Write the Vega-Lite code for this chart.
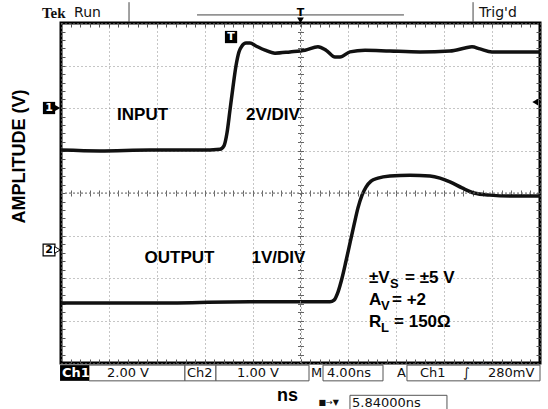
{
  "$schema": "https://vega.github.io/schema/vega-lite/v6.json",
  "width": 479,
  "height": 340,
  "autosize": {"type": "none"},
  "padding": {"left": 61, "top": 23, "right": 8, "bottom": 46},
  "background": "white",
  "config": {
    "view": {"stroke": "#000", "strokeWidth": 3},
    "font": "Liberation Sans",
    "axis": {"labels": false, "domain": false, "ticks": false, "grid": false}
  },
  "datasets": {
    "traces": [
      {"series": "INPUT", "t": 0, "v": 1.01}, {"series": "INPUT", "t": 3.26, "v": 0.99}, {"series": "INPUT", "t": 7.43, "v": 1.01},
      {"series": "INPUT", "t": 11.61, "v": 1.01}, {"series": "INPUT", "t": 13.28, "v": 1.03}, {"series": "INPUT", "t": 13.61, "v": 1.11},
      {"series": "INPUT", "t": 13.86, "v": 1.41}, {"series": "INPUT", "t": 14.11, "v": 1.95}, {"series": "INPUT", "t": 14.36, "v": 2.49},
      {"series": "INPUT", "t": 14.61, "v": 2.99}, {"series": "INPUT", "t": 14.86, "v": 3.32}, {"series": "INPUT", "t": 15.11, "v": 3.46},
      {"series": "INPUT", "t": 15.45, "v": 3.53}, {"series": "INPUT", "t": 15.78, "v": 3.53}, {"series": "INPUT", "t": 16.28, "v": 3.46},
      {"series": "INPUT", "t": 17.04, "v": 3.36}, {"series": "INPUT", "t": 17.87, "v": 3.29}, {"series": "INPUT", "t": 19.12, "v": 3.32},
      {"series": "INPUT", "t": 20.38, "v": 3.36}, {"series": "INPUT", "t": 21.46, "v": 3.44}, {"series": "INPUT", "t": 22.13, "v": 3.36},
      {"series": "INPUT", "t": 22.88, "v": 3.2}, {"series": "INPUT", "t": 23.3, "v": 3.2}, {"series": "INPUT", "t": 24.13, "v": 3.32},
      {"series": "INPUT", "t": 25.39, "v": 3.36}, {"series": "INPUT", "t": 27.47, "v": 3.34}, {"series": "INPUT", "t": 29.98, "v": 3.32},
      {"series": "INPUT", "t": 32.48, "v": 3.34}, {"series": "INPUT", "t": 33.74, "v": 3.41}, {"series": "INPUT", "t": 34.32, "v": 3.44},
      {"series": "INPUT", "t": 34.99, "v": 3.39}, {"series": "INPUT", "t": 35.99, "v": 3.32}, {"series": "INPUT", "t": 37.49, "v": 3.32},
      {"series": "INPUT", "t": 40, "v": 3.32},
      {"series": "OUTPUT", "t": 0, "v": -2.59}, {"series": "OUTPUT", "t": 7.43, "v": -2.59}, {"series": "OUTPUT", "t": 15.78, "v": -2.56},
      {"series": "OUTPUT", "t": 22.46, "v": -2.56}, {"series": "OUTPUT", "t": 22.8, "v": -2.52}, {"series": "OUTPUT", "t": 23.13, "v": -2.33},
      {"series": "OUTPUT", "t": 23.47, "v": -2.0}, {"series": "OUTPUT", "t": 23.8, "v": -1.6}, {"series": "OUTPUT", "t": 24.13, "v": -1.18},
      {"series": "OUTPUT", "t": 24.47, "v": -0.75}, {"series": "OUTPUT", "t": 24.8, "v": -0.35}, {"series": "OUTPUT", "t": 25.14, "v": -0.05},
      {"series": "OUTPUT", "t": 25.47, "v": 0.14}, {"series": "OUTPUT", "t": 25.89, "v": 0.28}, {"series": "OUTPUT", "t": 26.47, "v": 0.35},
      {"series": "OUTPUT", "t": 27.47, "v": 0.4}, {"series": "OUTPUT", "t": 29.14, "v": 0.42}, {"series": "OUTPUT", "t": 30.81, "v": 0.4},
      {"series": "OUTPUT", "t": 31.65, "v": 0.35}, {"series": "OUTPUT", "t": 32.48, "v": 0.26}, {"series": "OUTPUT", "t": 33.49, "v": 0.12},
      {"series": "OUTPUT", "t": 34.49, "v": 0.0}, {"series": "OUTPUT", "t": 35.82, "v": -0.05}, {"series": "OUTPUT", "t": 37.49, "v": -0.07},
      {"series": "OUTPUT", "t": 40, "v": -0.07}
    ],
    "labels": [
      {"t": 6.81, "v": 1.84, "label": "INPUT"},
      {"t": 17.7, "v": 1.84, "label": "2V/DIV"},
      {"t": 9.9, "v": -1.53, "label": "OUTPUT"},
      {"t": 18.16, "v": -1.53, "label": "1V/DIV"}
    ],
    "eqMain": [
      {"t": 25.72, "v": -2.0, "label": "±V"},
      {"t": 28.73, "v": -2.0, "label": "= ±5 V"},
      {"t": 25.72, "v": -2.52, "label": "A"},
      {"t": 27.64, "v": -2.52, "label": "= +2"},
      {"t": 25.72, "v": -3.04, "label": "R"},
      {"t": 27.81, "v": -3.04, "label": "= 150Ω"}
    ],
    "eqSub": [
      {"t": 27.47, "v": -2.0, "label": "S"},
      {"t": 26.72, "v": -2.52, "label": "V"},
      {"t": 26.72, "v": -3.04, "label": "L"}
    ],
    "status": [
      {"t": 3.84, "v": -4.235, "label": "2.00 V"},
      {"t": 10.52, "v": -4.235, "label": "Ch2"},
      {"t": 14.7, "v": -4.235, "label": "1.00 V"},
      {"t": 20.88, "v": -4.235, "label": "M"},
      {"t": 22.21, "v": -4.235, "label": "4.00ns"},
      {"t": 28.06, "v": -4.235, "label": "A"},
      {"t": 29.98, "v": -4.235, "label": "Ch1"},
      {"t": 33.57, "v": -4.235, "label": "∫"},
      {"t": 35.66, "v": -4.235, "label": "280mV"},
      {"t": 24.3, "v": -4.93, "label": "5.84000ns"}
    ],
    "boxes": [
      {"t1": 2.34, "t2": 10.35, "v1": -4.05, "v2": -4.42},
      {"t1": 10.35, "t2": 12.94, "v1": -4.05, "v2": -4.42},
      {"t1": 12.94, "t2": 20.71, "v1": -4.05, "v2": -4.42},
      {"t1": 21.88, "t2": 26.89, "v1": -4.05, "v2": -4.42},
      {"t1": 28.89, "t2": 40, "v1": -4.05, "v2": -4.42},
      {"t1": 24.13, "t2": 32.23, "v1": -4.76, "v2": -5.2}
    ],
    "lines": [
      {"t1": 5.68, "t2": 5.68, "v1": 4.49, "v2": 4.02},
      {"t1": 34.41, "t2": 34.41, "v1": 4.49, "v2": 4.02},
      {"t1": 11.36, "t2": 28.64, "v1": 4.19, "v2": 4.19}
    ]
  },
  "resolve": {"axis": {"x": "independent", "y": "independent"}},
  "layer": [
    {
      "data": {"name": "traces"},
      "mark": {"type": "line", "color": "#111", "strokeWidth": 3.5, "interpolate": "monotone", "strokeJoin": "round"},
      "encoding": {
        "x": {"field": "t", "type": "quantitative", "scale": {"domain": [0, 40], "nice": false, "zero": false},
          "axis": {"orient": "bottom", "grid": true, "values": [0, 4, 8, 12, 16, 20, 24, 28, 32, 36, 40], "gridColor": "#8c8c8c", "gridDash": [1, 3], "gridWidth": 1,
            "title": "ns", "titleFontSize": 18, "titleFontWeight": "bold", "titleX": 226, "titleY": 32, "titleBaseline": "middle", "titleAlign": "center", "titleColor": "#000"}},
        "y": {"field": "v", "type": "quantitative", "scale": {"domain": [-4, 4], "nice": false, "zero": false},
          "axis": {"orient": "left", "grid": true, "values": [-4, -3, -2, -1, 0, 1, 2, 3, 4], "gridColor": "#8c8c8c", "gridDash": [1, 3], "gridWidth": 1,
            "title": "AMPLITUDE (V)", "titleFontSize": 18, "titleFontWeight": "bold", "titleX": -42, "titleY": 133, "titleAngle": -90, "titleAlign": "center", "titleBaseline": "middle", "titleColor": "#000"}},
        "detail": {"field": "series"}
      }
    },
    {
      "data": {"values": [{"t": 20, "a": -4, "b": 4}]},
      "mark": {"type": "rule", "color": "#777", "strokeDash": [2, 2], "strokeWidth": 1},
      "encoding": {
        "x": {"field": "t", "type": "quantitative",
          "axis": {"orient": "bottom", "ticks": true, "tickSize": -4, "tickColor": "#555", "title": null,
            "values": [0.8,1.6,2.4,3.2,4,4.8,5.6,6.4,7.2,8,8.8,9.6,10.4,11.2,12,12.8,13.6,14.4,15.2,16,16.8,17.6,18.4,19.2,20,20.8,21.6,22.4,23.2,24,24.8,25.6,26.4,27.2,28,28.8,29.6,30.4,31.2,32,32.8,33.6,34.4,35.2,36,36.8,37.6,38.4,39.2]}},
        "y": {"field": "a", "type": "quantitative",
          "axis": {"orient": "left", "offset": -239.5, "ticks": true, "tickSize": 3, "tickColor": "#666", "title": null,
            "values": [-3.8,-3.6,-3.4,-3.2,-3,-2.8,-2.6,-2.4,-2.2,-2,-1.8,-1.6,-1.4,-1.2,-1,-0.8,-0.6,-0.4,-0.2,0,0.2,0.4,0.6,0.8,1,1.2,1.4,1.6,1.8,2,2.2,2.4,2.6,2.8,3,3.2,3.4,3.6,3.8]}},
        "y2": {"field": "b"}
      }
    },
    {
      "data": {"values": [{"a": 0, "b": 40, "v": 0}]},
      "mark": {"type": "rule", "color": "#777", "strokeDash": [2, 2], "strokeWidth": 1},
      "encoding": {
        "x": {"field": "a", "type": "quantitative",
          "axis": {"orient": "bottom", "offset": -170, "ticks": true, "tickSize": 3, "tickColor": "#666", "title": null,
            "values": [0.8,1.6,2.4,3.2,4,4.8,5.6,6.4,7.2,8,8.8,9.6,10.4,11.2,12,12.8,13.6,14.4,15.2,16,16.8,17.6,18.4,19.2,20,20.8,21.6,22.4,23.2,24,24.8,25.6,26.4,27.2,28,28.8,29.6,30.4,31.2,32,32.8,33.6,34.4,35.2,36,36.8,37.6,38.4,39.2]}},
        "x2": {"field": "b"},
        "y": {"field": "v", "type": "quantitative",
          "axis": {"orient": "left", "ticks": true, "tickSize": -4, "tickColor": "#555", "title": null,
            "values": [-3.8,-3.6,-3.4,-3.2,-3,-2.8,-2.6,-2.4,-2.2,-2,-1.8,-1.6,-1.4,-1.2,-1,-0.8,-0.6,-0.4,-0.2,0,0.2,0.4,0.6,0.8,1,1.2,1.4,1.6,1.8,2,2.2,2.4,2.6,2.8,3,3.2,3.4,3.6,3.8]}}
      }
    },
    {
      "data": {"name": "labels"},
      "mark": {"type": "text", "font": "Liberation Sans", "fontSize": 17, "fontWeight": "bold", "align": "center", "baseline": "middle", "color": "#000"},
      "encoding": {
        "x": {"field": "t", "type": "quantitative",
          "axis": {"orient": "top", "ticks": true, "tickSize": -4, "tickColor": "#555", "title": null,
            "values": [0.8,1.6,2.4,3.2,4,4.8,5.6,6.4,7.2,8,8.8,9.6,10.4,11.2,12,12.8,13.6,14.4,15.2,16,16.8,17.6,18.4,19.2,20,20.8,21.6,22.4,23.2,24,24.8,25.6,26.4,27.2,28,28.8,29.6,30.4,31.2,32,32.8,33.6,34.4,35.2,36,36.8,37.6,38.4,39.2]}},
        "y": {"field": "v", "type": "quantitative",
          "axis": {"orient": "right", "ticks": true, "tickSize": -4, "tickColor": "#555", "title": null,
            "values": [-3.8,-3.6,-3.4,-3.2,-3,-2.8,-2.6,-2.4,-2.2,-2,-1.8,-1.6,-1.4,-1.2,-1,-0.8,-0.6,-0.4,-0.2,0,0.2,0.4,0.6,0.8,1,1.2,1.4,1.6,1.8,2,2.2,2.4,2.6,2.8,3,3.2,3.4,3.6,3.8]}},
        "text": {"field": "label"}
      }
    },
    {
      "data": {"name": "eqMain"},
      "mark": {"type": "text", "font": "Liberation Sans", "fontSize": 17, "fontWeight": "bold", "align": "left", "baseline": "middle", "color": "#000"},
      "encoding": {
        "x": {"field": "t", "type": "quantitative",
          "axis": {"orient": "top", "offset": -170, "ticks": true, "tickSize": 3, "tickColor": "#666", "title": null,
            "values": [0.8,1.6,2.4,3.2,4,4.8,5.6,6.4,7.2,8,8.8,9.6,10.4,11.2,12,12.8,13.6,14.4,15.2,16,16.8,17.6,18.4,19.2,20,20.8,21.6,22.4,23.2,24,24.8,25.6,26.4,27.2,28,28.8,29.6,30.4,31.2,32,32.8,33.6,34.4,35.2,36,36.8,37.6,38.4,39.2]}},
        "y": {"field": "v", "type": "quantitative",
          "axis": {"orient": "right", "offset": -239.5, "ticks": true, "tickSize": 3, "tickColor": "#666", "title": null,
            "values": [-3.8,-3.6,-3.4,-3.2,-3,-2.8,-2.6,-2.4,-2.2,-2,-1.8,-1.6,-1.4,-1.2,-1,-0.8,-0.6,-0.4,-0.2,0,0.2,0.4,0.6,0.8,1,1.2,1.4,1.6,1.8,2,2.2,2.4,2.6,2.8,3,3.2,3.4,3.6,3.8]}},
        "text": {"field": "label"}
      }
    },
    {
      "data": {"name": "eqSub"},
      "mark": {"type": "text", "font": "Liberation Sans", "fontSize": 13, "fontWeight": "bold", "align": "left", "baseline": "middle", "dy": 6, "color": "#000"},
      "encoding": {
        "x": {"field": "t", "type": "quantitative", "axis": null},
        "y": {"field": "v", "type": "quantitative", "axis": null},
        "text": {"field": "label"}
      }
    },
    {
      "data": {"name": "boxes"},
      "mark": {"type": "rect", "fill": "#fff", "stroke": "#555", "strokeWidth": 1},
      "encoding": {
        "x": {"field": "t1", "type": "quantitative", "axis": null},
        "x2": {"field": "t2"},
        "y": {"field": "v1", "type": "quantitative", "axis": null},
        "y2": {"field": "v2"}
      }
    },
    {
      "data": {"values": [{"t1": -0.08, "t2": 2.34, "v1": -4.05, "v2": -4.42}]},
      "mark": {"type": "rect", "fill": "#000"},
      "encoding": {
        "x": {"field": "t1", "type": "quantitative", "axis": null},
        "x2": {"field": "t2"},
        "y": {"field": "v1", "type": "quantitative", "axis": null},
        "y2": {"field": "v2"}
      }
    },
    {
      "data": {"name": "status"},
      "mark": {"type": "text", "font": "DejaVu Sans", "fontSize": 13, "align": "left", "baseline": "middle", "color": "#111"},
      "encoding": {
        "x": {"field": "t", "type": "quantitative", "axis": null},
        "y": {"field": "v", "type": "quantitative", "axis": null},
        "text": {"field": "label"}
      }
    },
    {
      "data": {"values": [{"t": 21.5, "v": -4.93, "label": "■→▼"}]},
      "mark": {"type": "text", "font": "DejaVu Sans", "fontSize": 8, "align": "left", "baseline": "middle", "color": "#111"},
      "encoding": {
        "x": {"field": "t", "type": "quantitative", "axis": null},
        "y": {"field": "v", "type": "quantitative", "axis": null},
        "text": {"field": "label"}
      }
    },
    {
      "data": {"values": [{"t": 0.08, "v": -4.235, "label": "Ch1"}]},
      "mark": {"type": "text", "font": "DejaVu Sans", "fontSize": 13, "fontWeight": "bold", "align": "left", "baseline": "middle", "color": "#fff"},
      "encoding": {
        "x": {"field": "t", "type": "quantitative", "axis": null},
        "y": {"field": "v", "type": "quantitative", "axis": null},
        "text": {"field": "label"}
      }
    },
    {
      "data": {"name": "lines"},
      "mark": {"type": "rule", "color": "#444", "strokeWidth": 1},
      "encoding": {
        "x": {"field": "t1", "type": "quantitative", "axis": null},
        "x2": {"field": "t2"},
        "y": {"field": "v1", "type": "quantitative", "axis": null},
        "y2": {"field": "v2"}
      }
    },
    {
      "data": {"values": [{"t": -1.59, "v": 4.235, "label": "Tek"}]},
      "mark": {"type": "text", "font": "Liberation Serif", "fontSize": 15, "fontWeight": "bold", "align": "left", "baseline": "middle", "color": "#111"},
      "encoding": {
        "x": {"field": "t", "type": "quantitative", "axis": null},
        "y": {"field": "v", "type": "quantitative", "axis": null},
        "text": {"field": "label"}
      }
    },
    {
      "data": {"values": [{"t": 1.09, "v": 4.235, "label": "Run"}, {"t": 34.91, "v": 4.235, "label": "Trig'd"}]},
      "mark": {"type": "text", "font": "DejaVu Sans", "fontSize": 14, "align": "left", "baseline": "middle", "color": "#111"},
      "encoding": {
        "x": {"field": "t", "type": "quantitative", "axis": null},
        "y": {"field": "v", "type": "quantitative", "axis": null},
        "text": {"field": "label"}
      }
    },
    {
      "data": {"values": [{"t": -1.0, "v": 2.0}, {"t": 14.2, "v": 3.67}]},
      "mark": {"type": "point", "shape": "square", "filled": true, "color": "#000", "opacity": 1, "size": 150},
      "encoding": {
        "x": {"field": "t", "type": "quantitative", "axis": null},
        "y": {"field": "v", "type": "quantitative", "axis": null}
      }
    },
    {
      "data": {"values": [{"t": -1.0, "v": -1.34}]},
      "mark": {"type": "point", "shape": "square", "filled": true, "fill": "#fff", "stroke": "#000", "strokeWidth": 1.2, "opacity": 1, "size": 140},
      "encoding": {
        "x": {"field": "t", "type": "quantitative", "axis": null},
        "y": {"field": "v", "type": "quantitative", "axis": null}
      }
    },
    {
      "data": {"values": [{"t": -0.3, "v": 2.0}]},
      "mark": {"type": "point", "shape": "triangle-right", "filled": true, "color": "#000", "opacity": 1, "size": 45},
      "encoding": {
        "x": {"field": "t", "type": "quantitative", "axis": null},
        "y": {"field": "v", "type": "quantitative", "axis": null}
      }
    },
    {
      "data": {"values": [{"t": -0.3, "v": -1.34}]},
      "mark": {"type": "point", "shape": "triangle-right", "filled": true, "fill": "#fff", "stroke": "#000", "strokeWidth": 1, "opacity": 1, "size": 45},
      "encoding": {
        "x": {"field": "t", "type": "quantitative", "axis": null},
        "y": {"field": "v", "type": "quantitative", "axis": null}
      }
    },
    {
      "data": {"values": [{"t": 20, "v": 4.06}]},
      "mark": {"type": "point", "shape": "triangle-down", "filled": true, "color": "#000", "opacity": 1, "size": 45},
      "encoding": {
        "x": {"field": "t", "type": "quantitative", "axis": null},
        "y": {"field": "v", "type": "quantitative", "axis": null}
      }
    },
    {
      "data": {"values": [{"t": 39.6, "v": 2.14}]},
      "mark": {"type": "point", "shape": "triangle-left", "filled": true, "color": "#000", "opacity": 1, "size": 45},
      "encoding": {
        "x": {"field": "t", "type": "quantitative", "axis": null},
        "y": {"field": "v", "type": "quantitative", "axis": null}
      }
    },
    {
      "data": {"values": [{"t": -1.0, "v": 2.0, "label": "1"}, {"t": 14.2, "v": 3.67, "label": "T"}]},
      "mark": {"type": "text", "font": "DejaVu Sans", "fontSize": 11, "fontWeight": "bold", "align": "center", "baseline": "middle", "color": "#fff"},
      "encoding": {
        "x": {"field": "t", "type": "quantitative", "axis": null},
        "y": {"field": "v", "type": "quantitative", "axis": null},
        "text": {"field": "label"}
      }
    },
    {
      "data": {"values": [{"t": -1.0, "v": -1.34, "label": "2"}, {"t": 20, "v": 4.24, "label": "T"}]},
      "mark": {"type": "text", "font": "DejaVu Sans", "fontSize": 11, "fontWeight": "bold", "align": "center", "baseline": "middle", "color": "#000"},
      "encoding": {
        "x": {"field": "t", "type": "quantitative", "axis": null},
        "y": {"field": "v", "type": "quantitative", "axis": null},
        "text": {"field": "label"}
      }
    }
  ]
}
